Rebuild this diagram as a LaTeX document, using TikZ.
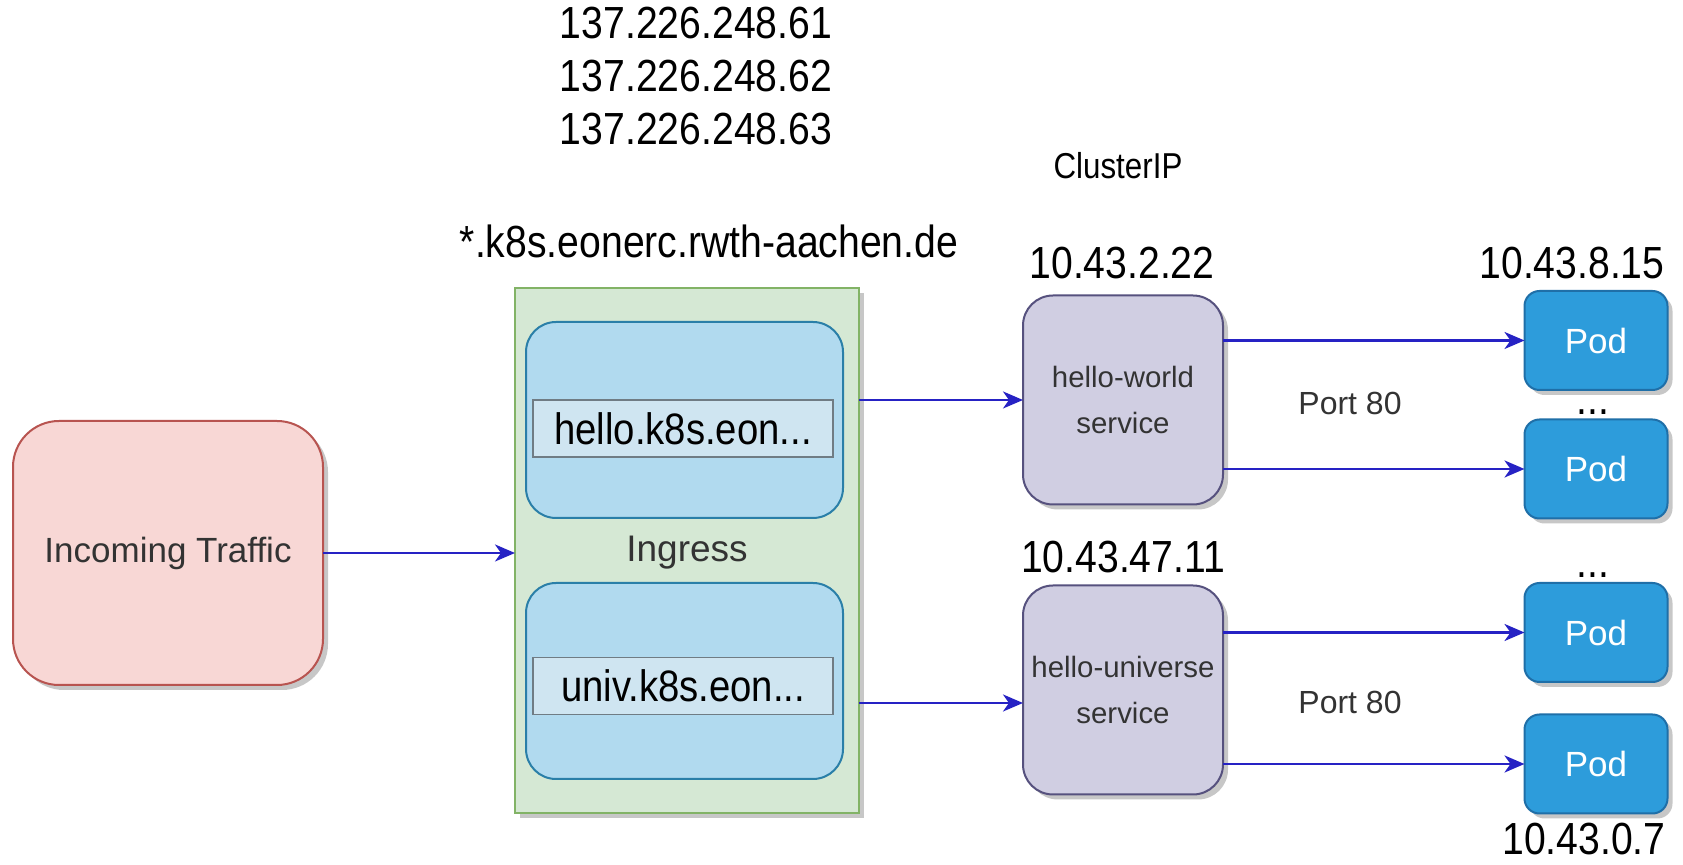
\documentclass[tikz,border=0pt]{standalone}
\usepackage{fontspec}
\setmainfont{Liberation Sans}
\newfontfamily\narrowsans{Liberation Sans}[FakeStretch=0.87]
\usetikzlibrary{arrows.meta,shadows}

\definecolor{trafficfill}{HTML}{F8D7D5}
\definecolor{trafficline}{HTML}{B85450}
\definecolor{ingressfill}{HTML}{D5E8D4}
\definecolor{ingressline}{HTML}{82B366}
\definecolor{rulefill}{HTML}{B1DAEF}
\definecolor{ruleline}{HTML}{2A7FA8}
\definecolor{hostfill}{HTML}{CFE5F1}
\definecolor{hostline}{HTML}{707C84}
\definecolor{svcfill}{HTML}{D0CEE2}
\definecolor{svcline}{HTML}{56517E}
\definecolor{podfill}{HTML}{2D9CDB}
\definecolor{podline}{HTML}{1F6FA8}
\definecolor{linkblue}{RGB}{38,34,196}
\definecolor{labelgrey}{HTML}{333333}

\tikzset{
  shade/.style={drop shadow={shadow xshift=2.5pt,shadow yshift=-2.5pt,fill=black,opacity=0.22}},
  box/.style={rectangle,outer sep=0pt,inner sep=0pt,line width=1pt,align=center},
  traffic/.style={box,shade,draw=trafficline,fill=trafficfill,rounded corners=23pt,
    minimum width=155pt,minimum height=132pt,text=labelgrey,font=\fontsize{17.5}{21}\selectfont},
  ingressbox/.style={box,shade,draw=ingressline,fill=ingressfill,
    minimum width=172pt,minimum height=262.5pt},
  rulebox/.style={box,draw=ruleline,fill=rulefill,rounded corners=15pt,
    minimum width=158.5pt,minimum height=98pt},
  hostbox/.style={box,draw=hostline,fill=hostfill,line width=0.6pt,
    minimum width=150pt,minimum height=28.5pt,font=\narrowsans\fontsize{22}{26}\selectfont},
  service/.style={box,shade,draw=svcline,fill=svcfill,rounded corners=15pt,
    minimum width=100pt,minimum height=104.5pt,text=labelgrey,font=\fontsize{14.7}{23}\selectfont},
  pod/.style={box,shade,draw=podline,fill=podfill,rounded corners=7.5pt,
    minimum width=71.5pt,minimum height=49.5pt,text=white,font=\fontsize{17.5}{20}\selectfont},
  iplabel/.style={inner sep=0pt,align=center,font=\narrowsans\fontsize{22.5}{26.5}\selectfont},
  plainlabel/.style={inner sep=0pt,align=center,text=labelgrey,font=\fontsize{16}{19}\selectfont},
  link/.style={draw=linkblue,line width=1.3pt,
    -{Stealth[length=10pt,width=8.5pt,inset=3pt]}},
}

\begin{document}
\begin{tikzpicture}[x=0.5pt,y=-0.5pt]
\useasboundingbox[fill=white] (0,0) rectangle (1683,865);

% headline addresses and wildcard host
\node[iplabel] (extips) at (696,76) {137.226.248.61\\137.226.248.62\\137.226.248.63};
\node[iplabel] (wildcard) at (709,241) {*.k8s.eonerc.rwth-aachen.de};
\node[iplabel,font=\narrowsans\fontsize{18}{21}\selectfont] (clusterip) at (1118,166) {ClusterIP};

% entry point
\node[traffic] (inc) at (168,553) {Incoming Traffic};

% ingress with its two host rules
\node[ingressbox] (ing) at (687,550.5) {};
\node[rulebox] (rule1) at (684.5,420) {};
\node[hostbox] (host1) at (683,428.5) {hello.k8s.eon...};
\node[plainlabel,text=labelgrey,font=\fontsize{18.5}{21}\selectfont] (inglbl) at (687,553) {Ingress};
\node[rulebox] (rule2) at (684.5,681) {};
\node[hostbox] (host2) at (683,686) {univ.k8s.eon...};

% services
\node[service] (hw) at (1123,400) {hello-world\\service};
\node[service] (hu) at (1123,690) {hello-universe\\service};
\node[iplabel] (hwip) at (1122,263) {10.43.2.22};
\node[iplabel] (huip) at (1123,557) {10.43.47.11};

% pods
\node[pod] (p1) at (1596,340.5) {Pod};
\node[pod] (p2) at (1596,469) {Pod};
\node[pod] (p3) at (1596,632.5) {Pod};
\node[pod] (p4) at (1596,764) {Pod};
\node[iplabel] (p1ip) at (1572,263) {10.43.8.15};
\node[iplabel,anchor=base] (p4ip) at (1584,855) {10.43.0.7};
\node[iplabel,anchor=base] (dots1) at (1593,415) {...};
\node[iplabel,anchor=base] (dots2) at (1593,578) {...};

% port labels
\node[plainlabel] (port1) at (1350,403) {Port 80};
\node[plainlabel] (port2) at (1350,702) {Port 80};

% connectors
\coordinate (huin) at ([yshift=-6.5pt]hu.west);
\draw[link] (inc.east) -- (inc.east -| ing.west);
\draw[link] (ing.east |- hw.west) -- (hw.west);
\draw[link] (ing.east |- huin) -- (huin);
\draw[link] (hw.east |- p1.west) -- (p1.west);
\draw[link] (hw.east |- p2.west) -- (p2.west);
\draw[link] (hu.east |- p3.west) -- (p3.west);
\draw[link] (hu.east |- p4.west) -- (p4.west);
\end{tikzpicture}
\end{document}
